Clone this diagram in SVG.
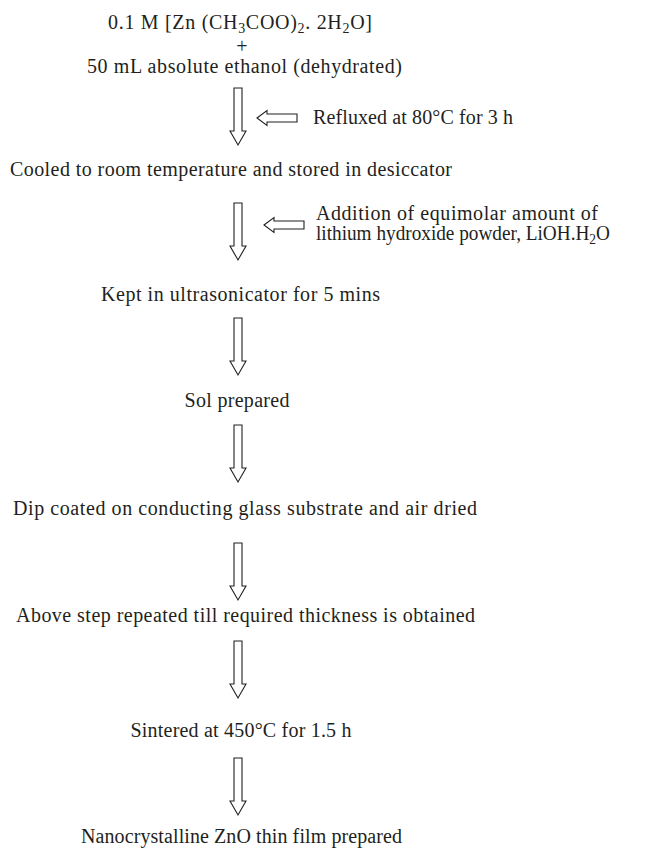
<svg xmlns="http://www.w3.org/2000/svg" width="645" height="850" viewBox="0 0 645 850">
<style>
text{font-family:"Liberation Serif","Times New Roman",serif;font-size:20px;fill:#231f20}
.c{text-anchor:middle}
.sub{font-size:14px}
.arr{fill:#fff;stroke:#231f20;stroke-width:1.1;stroke-linejoin:miter}
</style>
<defs>
<path id="down" class="arr" d="M-4,0 H4 V43 H8 L0,57 L-8,43 H-4 Z"/>
<path id="left" class="arr" d="M0,0 L10,-7.5 V-4 H40 V4 H10 V7.5 Z"/>
</defs>
<rect width="645" height="850" fill="#fff"/>
<g id="n1">
<text class="c" x="240" y="29" textLength="264" lengthAdjust="spacing">0.1 M [Zn (CH<tspan class="sub" dy="4">3</tspan><tspan dy="-4">COO)</tspan><tspan class="sub" dy="4">2</tspan><tspan dy="-4">. 2H</tspan><tspan class="sub" dy="4">2</tspan><tspan dy="-4">O]</tspan></text>
<text class="c" x="242" y="53">+</text>
<text class="c" x="244.5" y="73" textLength="315" lengthAdjust="spacing">50 mL absolute ethanol (dehydrated)</text>
</g>
<g id="n1a"><text x="313" y="124" textLength="200" lengthAdjust="spacing">Refluxed at 80°C for 3 h</text></g>
<g id="n2"><text class="c" x="231" y="176" textLength="442" lengthAdjust="spacing">Cooled to room temperature and stored in desiccator</text></g>
<g id="n2a">
<text x="316" y="220" textLength="282" lengthAdjust="spacing">Addition of equimolar amount of</text>
<text x="316" y="240" textLength="294" lengthAdjust="spacingAndGlyphs">lithium hydroxide powder, LiOH.H<tspan class="sub" dy="4">2</tspan><tspan dy="-4">O</tspan></text>
</g>
<g id="n3"><text class="c" x="240.5" y="301" textLength="279" lengthAdjust="spacing">Kept in ultrasonicator for 5 mins</text></g>
<g id="n4"><text class="c" x="237" y="407" textLength="105" lengthAdjust="spacing">Sol prepared</text></g>
<g id="n5"><text class="c" x="245" y="515" textLength="464" lengthAdjust="spacing">Dip coated on conducting glass substrate and air dried</text></g>
<g id="n6"><text class="c" x="245.5" y="622" textLength="459" lengthAdjust="spacing">Above step repeated till required thickness is obtained</text></g>
<g id="n7"><text class="c" x="241" y="737" textLength="221" lengthAdjust="spacing">Sintered at 450°C for 1.5 h</text></g>
<g id="n8"><text class="c" x="241.5" y="843" textLength="321" lengthAdjust="spacing">Nanocrystalline ZnO thin film prepared</text></g>
<g id="connectors">
<use href="#down" x="238" y="88"/>
<use href="#left" x="257" y="118"/>
<use href="#down" x="238" y="203"/>
<use href="#left" x="264" y="225"/>
<use href="#down" x="238" y="318"/>
<use href="#down" x="238" y="425"/>
<use href="#down" x="238" y="543"/>
<use href="#down" x="238" y="641"/>
<use href="#down" x="238" y="758"/>
</g>
</svg>
